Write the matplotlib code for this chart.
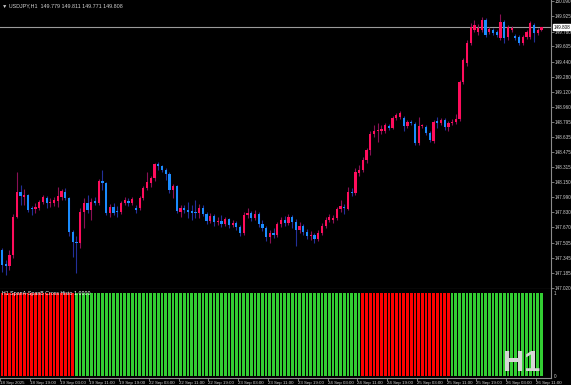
import matplotlib
matplotlib.use("Agg")
import matplotlib.pyplot as plt
import matplotlib.transforms as mtransforms
import numpy as np

plt.rcParams['font.family'] = ['Liberation Sans', 'DejaVu Sans']

# ---------------- data ----------------
opens = [147.427,147.277,147.256,147.373,147.780,148.047,147.994,148.015,147.876,147.865,
         147.876,147.940,147.983,147.929,147.929,147.951,147.994,148.047,147.983,147.619,
         147.512,147.502,147.833,147.929,147.855,147.951,147.929,148.165,148.143,147.823,
         147.887,147.844,147.833,147.929,147.951,147.929,147.876,147.876,147.983,148.090,
         148.143,148.197,148.347,148.326,148.282,148.240,148.069,148.111,147.833,147.876,
         147.855,147.844,147.833,147.823,147.876,147.812,147.737,147.790,147.726,147.737,
         147.705,147.758,147.694,147.716,147.673,147.609,147.801,147.823,147.769,147.812,
         147.705,147.662,147.566,147.609,147.587,147.705,147.748,147.716,147.780,147.726,
         147.641,147.683,147.619,147.576,147.587,147.544,147.609,147.683,147.748,147.748,
         147.769,147.865,147.887,147.865,148.047,148.036,148.250,148.282,148.389,148.496,
         148.668,148.700,148.700,148.700,148.753,148.732,148.839,148.849,148.839,148.753,
         148.796,148.775,148.571,148.753,148.742,148.678,148.593,148.807,148.785,148.817,
         148.742,148.785,148.796,148.828,149.224,149.427,149.641,149.780,149.759,149.780,
         149.887,149.759,149.780,149.759,149.694,149.866,149.705,149.780,149.716,149.705,
         149.641,149.705,149.705,149.834,149.748,149.779]
highs = [147.448,147.320,147.427,147.812,148.261,148.122,148.079,148.026,147.897,147.929,
         147.962,148.015,148.004,147.983,147.994,148.101,148.079,148.090,147.994,147.641,
         147.576,147.876,147.983,148.015,147.983,147.994,148.186,148.282,148.154,147.919,
         147.929,147.897,147.951,147.994,147.983,147.994,147.908,148.004,148.111,148.261,
         148.218,148.358,148.368,148.336,148.304,148.261,148.133,148.122,147.908,147.908,
         147.940,147.908,147.962,147.919,147.908,147.833,147.823,147.812,147.780,147.801,
         147.780,147.769,147.748,147.737,147.694,147.833,147.876,147.844,147.855,147.833,
         147.748,147.683,147.641,147.662,147.726,147.780,147.790,147.812,147.801,147.758,
         147.726,147.705,147.651,147.630,147.609,147.641,147.716,147.780,147.812,147.801,
         147.887,147.962,147.919,148.101,148.090,148.304,148.336,148.422,148.518,148.700,
         148.764,148.785,148.764,148.785,148.775,148.860,148.892,148.914,148.860,148.817,
         148.817,148.796,148.849,148.775,148.764,148.700,148.817,148.849,148.839,148.839,
         148.807,148.828,148.882,149.245,149.481,149.673,149.855,149.887,149.844,149.919,
         149.908,149.812,149.801,149.780,149.951,149.887,149.834,149.823,149.737,149.727,
         149.727,149.780,149.876,149.855,149.801,149.811]
lows = [147.192,147.159,147.213,147.342,147.769,147.908,147.908,147.833,147.801,147.823,
        147.855,147.919,147.876,147.887,147.897,147.887,147.962,147.962,147.576,147.352,
        147.181,147.448,147.662,147.823,147.748,147.908,147.908,148.069,147.801,147.780,
        147.801,147.780,147.812,147.908,147.897,147.908,147.823,147.855,147.962,148.069,
        148.101,148.165,148.282,148.261,148.176,148.036,147.983,147.823,147.780,147.823,
        147.769,147.748,147.769,147.769,147.790,147.705,147.716,147.683,147.694,147.673,
        147.683,147.662,147.673,147.641,147.576,147.587,147.769,147.737,147.748,147.673,
        147.630,147.523,147.502,147.555,147.566,147.673,147.683,147.694,147.662,147.470,
        147.609,147.587,147.544,147.534,147.502,147.523,147.587,147.662,147.726,147.716,
        147.748,147.833,147.812,147.855,148.004,148.015,148.218,148.261,148.358,148.443,
        148.636,148.582,148.668,148.678,148.710,148.721,148.817,148.828,148.700,148.732,
        148.764,148.550,148.550,148.732,148.657,148.582,148.571,148.732,148.764,148.710,
        148.700,148.764,148.775,148.807,149.203,149.395,149.620,149.759,149.727,149.759,
        149.705,149.737,149.727,149.705,149.673,149.641,149.673,149.759,149.673,149.620,
        149.620,149.684,149.684,149.652,149.727,149.771]
closes = [147.267,147.256,147.373,147.780,148.047,148.004,148.015,147.855,147.865,147.887,
          147.940,147.994,147.929,147.940,147.962,148.004,148.058,147.983,147.619,147.512,
          147.502,147.833,147.929,147.855,147.940,147.929,148.165,148.143,147.823,147.887,
          147.823,147.833,147.929,147.962,147.929,147.972,147.855,147.983,148.090,148.154,
          148.197,148.347,148.326,148.282,148.240,148.069,148.111,147.844,147.876,147.855,
          147.833,147.823,147.823,147.876,147.812,147.737,147.790,147.726,147.737,147.705,
          147.758,147.694,147.716,147.673,147.609,147.801,147.823,147.769,147.812,147.705,
          147.662,147.566,147.609,147.587,147.705,147.748,147.716,147.780,147.726,147.641,
          147.683,147.619,147.576,147.587,147.544,147.609,147.683,147.748,147.780,147.769,
          147.865,147.897,147.876,148.047,148.036,148.261,148.282,148.389,148.496,148.668,
          148.700,148.710,148.721,148.764,148.732,148.839,148.871,148.892,148.753,148.796,
          148.785,148.571,148.753,148.764,148.678,148.603,148.796,148.785,148.817,148.742,
          148.785,148.796,148.828,149.224,149.459,149.641,149.812,149.834,149.801,149.887,
          149.727,149.791,149.748,149.727,149.866,149.694,149.812,149.801,149.694,149.641,
          149.705,149.759,149.855,149.748,149.780,149.808]

# SpanA-SpanB cross histogram: run-lengths of (state, bars)   -1 = red, +1 = green
cross_runs = [(-1, 20), (1, 77), (-1, 24), (1, 25)]

price_ticks = [150.090,149.925,149.760,149.605,149.440,149.280,149.120,148.960,148.795,
               148.635,148.475,148.315,148.150,147.990,147.830,147.670,147.505,147.345,
               147.185,147.020]
time_tick_bars = [0,8,16,24,32,40,48,56,64,72,80,88,96,104,112,120,128,136,144]
time_tick_labels = ["18 Sep 2025","18 Sep 19:00","19 Sep 03:00","19 Sep 11:00","19 Sep 19:00",
                    "22 Sep 03:00","22 Sep 11:00","22 Sep 19:00","23 Sep 03:00","23 Sep 11:00",
                    "23 Sep 19:00","24 Sep 03:00","24 Sep 11:00","24 Sep 19:00","25 Sep 03:00",
                    "25 Sep 11:00","25 Sep 19:00","26 Sep 03:00","26 Sep 11:00"]
symbol = "USDJPY,H1"
last_price = 149.808

# ---------------- styling ----------------
W, H = 571, 385
BG = 'black'
AXC = '#8c8c8c'
TXT = '#d0d0d0'
BULL = '#ff0d5c'
BEAR = '#1a8cff'
BULL_WICK = '#8a1055'
BEAR_WICK = '#23309a'
FS = 3.3

fig = plt.figure(figsize=(W / 100, H / 100), dpi=100, facecolor=BG)

main_top, main_bot = 0, 289
ind_top, ind_bot = 289, 378
right_px = 551
ax = fig.add_axes([0, 1 - main_bot / H, right_px / W, (main_bot - main_top) / H])
ax2 = fig.add_axes([0, 1 - ind_bot / H, right_px / W, (ind_bot - ind_top) / H])

n = len(opens)
idx = np.arange(n)
spacing = 3.72
x0px = 2.0
xlim = ((0 - x0px) / spacing, (right_px - x0px) / spacing)

for a in (ax, ax2):
    a.set_facecolor(BG)
    a.set_xlim(*xlim)
    for s in ('left', 'top'):
        a.spines[s].set_visible(False)
    for s in ('right', 'bottom'):
        a.spines[s].set_color(AXC)
        a.spines[s].set_linewidth(0.8)

o = np.array(opens); c = np.array(closes); hi = np.array(highs); lo = np.array(lows)
up = c >= o
wick_cols = [BULL_WICK if u else BEAR_WICK for u in up]
body_cols = [BULL if u else BEAR for u in up]
ax.vlines(idx, lo, hi, colors=wick_cols, linewidth=0.8, zorder=2)
bottoms = np.minimum(o, c)
heights = np.maximum(np.abs(c - o), 0.006)
ax.bar(idx, heights, bottom=bottoms, width=0.6, color=body_cols, linewidth=0, zorder=3)

ax.set_ylim(147.0093, 150.1007)
ax.axhline(last_price, color='#9a9a9a', linewidth=0.8, zorder=1)

ax.yaxis.tick_right()
ax.set_yticks(price_ticks)
ax.set_yticklabels([f"{t:.3f}" for t in price_ticks])
ax.tick_params(axis='y', colors=AXC, labelcolor=TXT, labelsize=FS, length=2,
               width=0.6, pad=0.5, direction='out')
ax.tick_params(axis='x', bottom=False, labelbottom=False)

trans = mtransforms.blended_transform_factory(ax.transAxes, ax.transData)
ax.text(1.0 + 2.5 / right_px, last_price, f"{last_price:.3f}", transform=trans,
        fontsize=FS, color='black', ha='left', va='center', clip_on=False, zorder=10,
        bbox=dict(boxstyle='square,pad=0.12', facecolor='white', edgecolor='white'))

# indicator histogram
states = []
for st, cnt in cross_runs:
    states += [st] * cnt
ind_cols = ['#ff0000' if s < 0 else '#32cd32' for s in states]
ax2.bar(idx, np.ones(n), width=0.74, color=ind_cols, linewidth=0, zorder=2)
ax2.set_ylim(-0.024, 1.048)
ax2.yaxis.tick_right()
ax2.set_yticks([0, 1])
ax2.set_yticklabels(['0', '1'])
ax2.tick_params(axis='y', colors=AXC, labelcolor=TXT, labelsize=FS, length=0, pad=2)
ax2.set_xticks(np.array(time_tick_bars) - 0.5)
ax2.set_xticklabels(time_tick_labels)
ax2.tick_params(axis='x', colors=AXC, labelcolor=TXT, labelsize=3.2, length=2,
                width=0.6, pad=0.4, direction='out')
for lab in ax2.get_xticklabels():
    lab.set_ha('left')

ax2.text(2 / right_px, 1 - 4 / (ind_bot - ind_top), "H1 SpanA-SpanB Cross Histo 1.0000",
         transform=ax2.transAxes, fontsize=3.8, color='white', ha='left', va='center', zorder=5)

fig.text(540 / W, 1 - 371 / H, "H1", fontsize=21, fontweight='bold', color='#d6d6d6',
         ha='right', va='baseline')

fig.text(2 / W, 1 - 5.5 / H,
         f"\u25bc {symbol}  {opens[-1]:.3f} {highs[-1]:.3f} {lows[-1]:.3f} {closes[-1]:.3f}",
         fontsize=3.9, color=TXT, ha='left', va='center',
         family=['Liberation Sans', 'DejaVu Sans'])

fig.savefig("out.png", dpi=100, facecolor=BG)
